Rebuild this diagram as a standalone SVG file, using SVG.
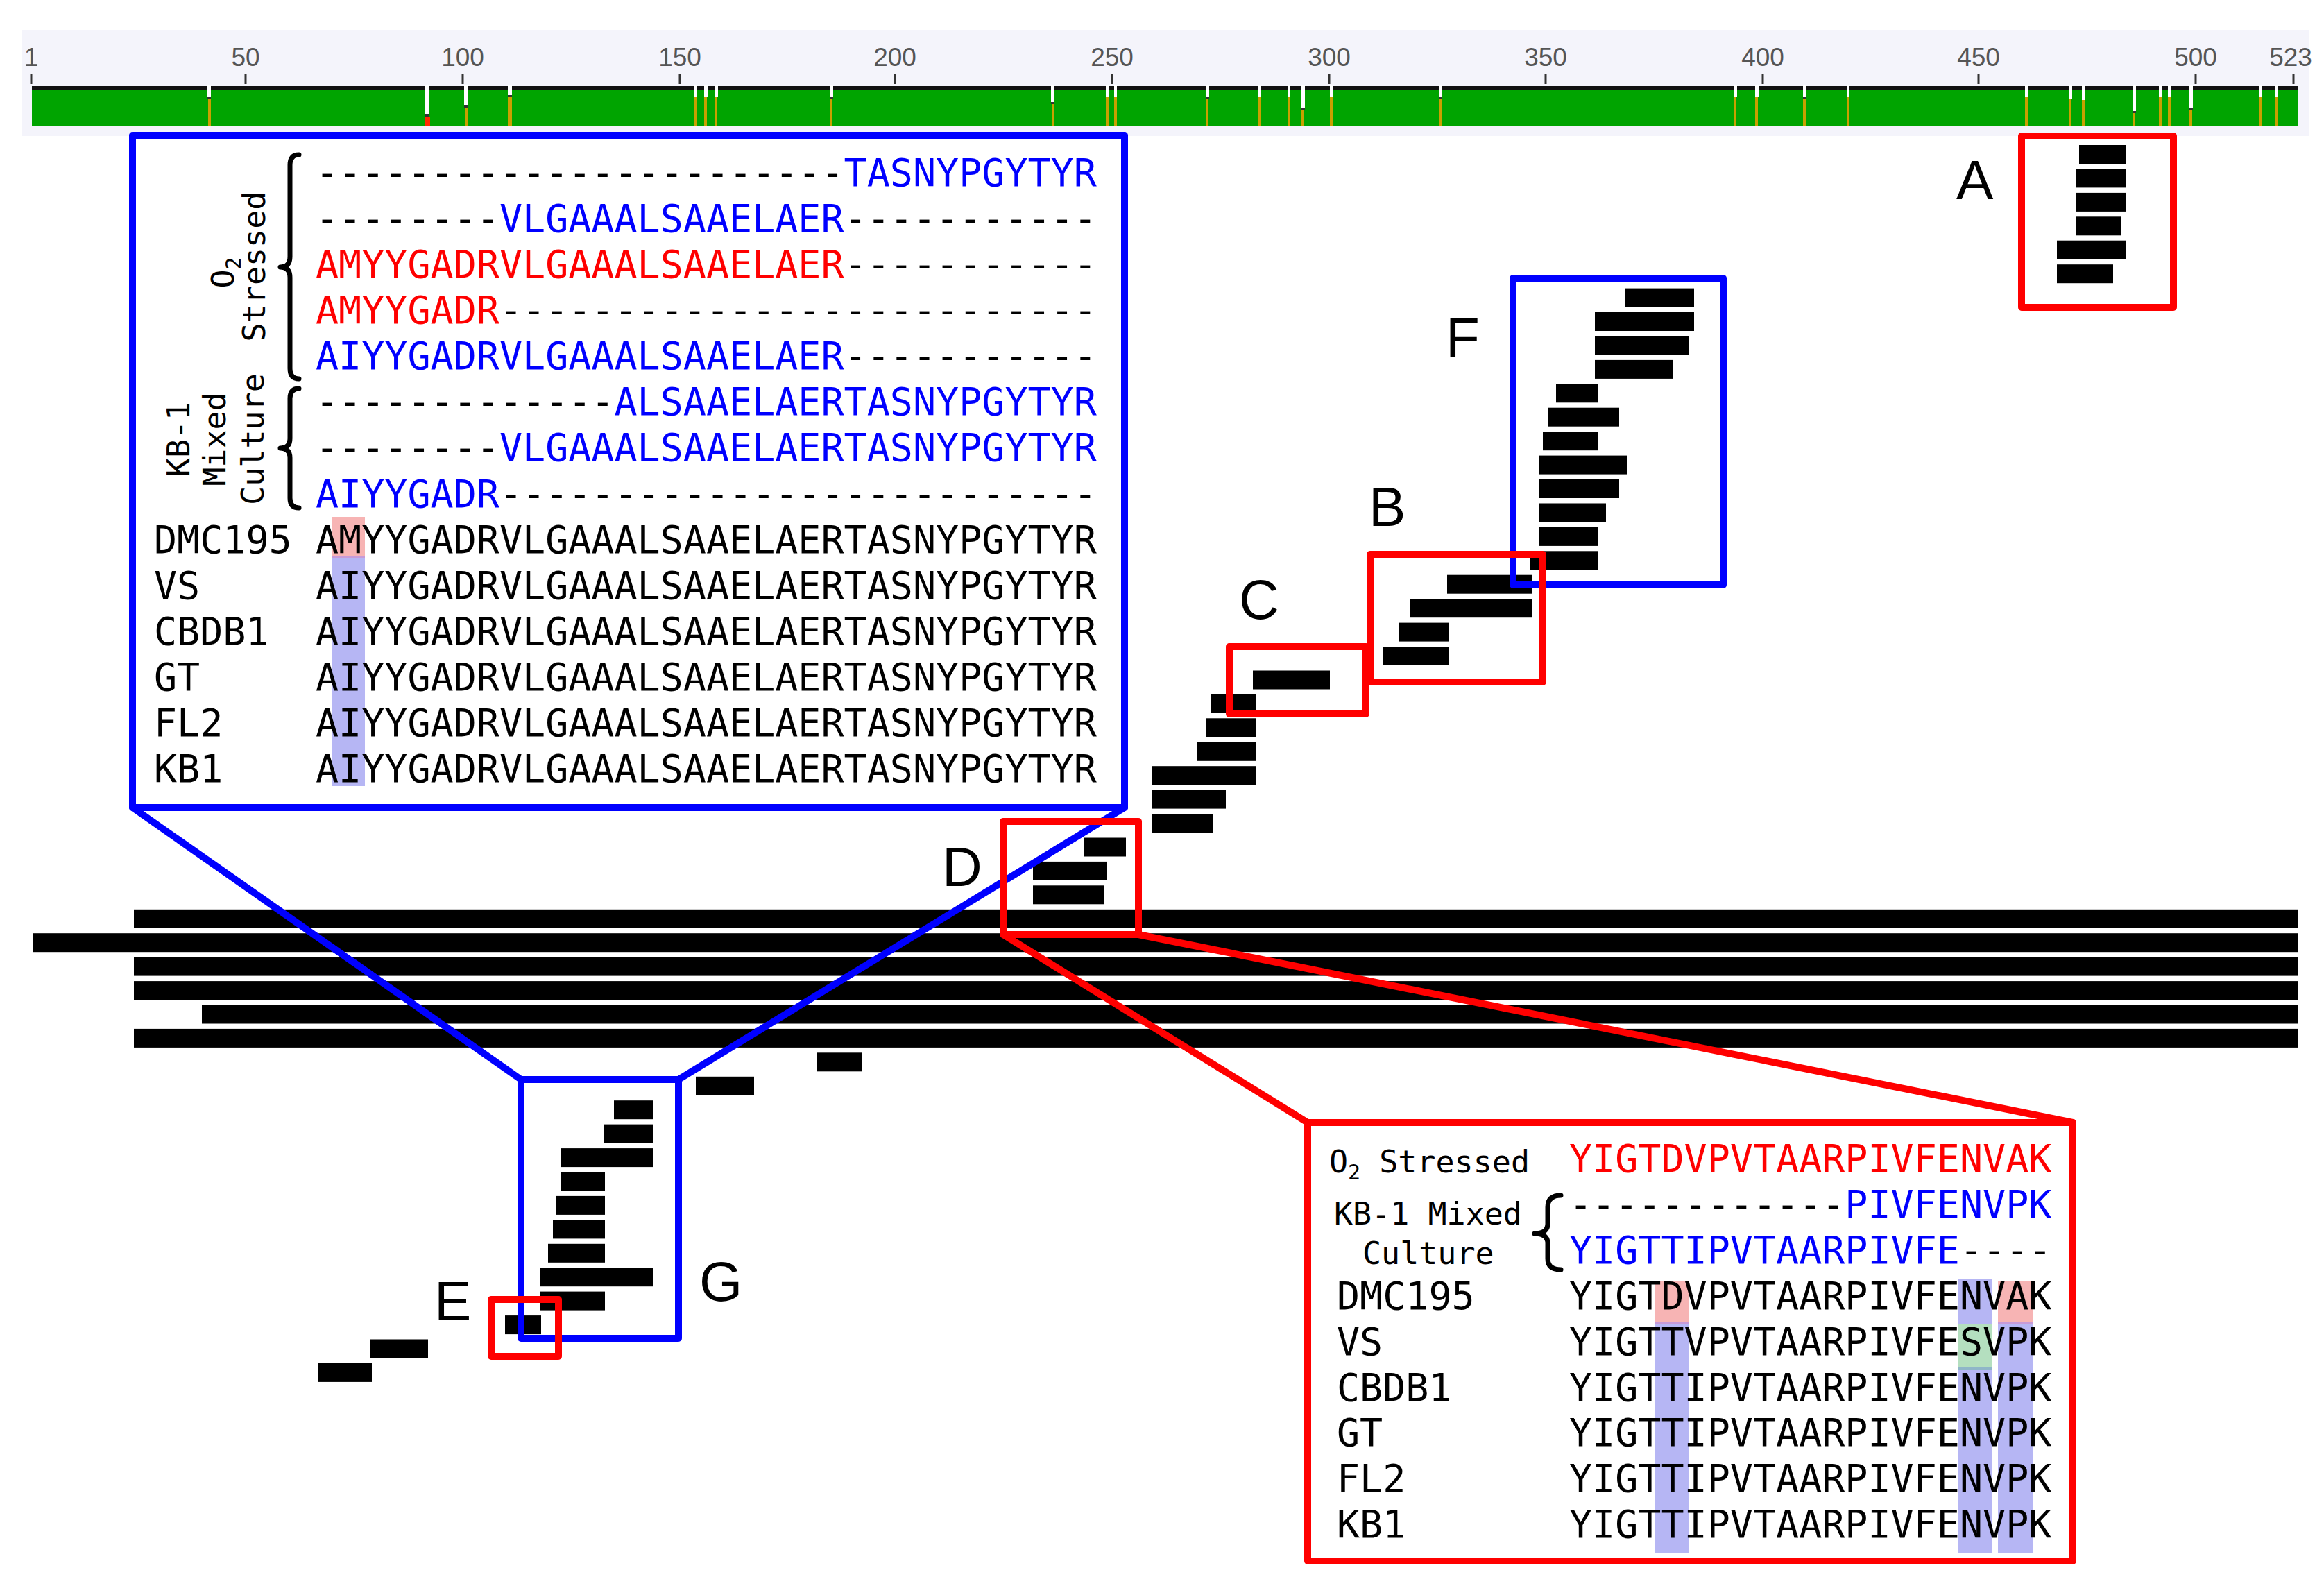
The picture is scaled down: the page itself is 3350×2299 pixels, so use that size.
<svg xmlns="http://www.w3.org/2000/svg" width="3350" height="2299" viewBox="0 0 3350 2299">
<style>
.bar{fill:#000}
.seq{font-family:'DejaVu Sans Mono',monospace;font-size:55px;fill:#000}
.lab45{font-family:'DejaVu Sans Mono',monospace;font-size:45px;fill:#000}
.bl{fill:#0000ff}
.rd{fill:#ff0000}
.lbl{font-family:'Liberation Sans',Arial,sans-serif;font-size:80px;fill:#000}
.tick{font-family:'Liberation Sans',Arial,sans-serif;font-size:37px;fill:#555;text-anchor:middle}
.tm{stroke:#333;stroke-width:3}
.bbox{fill:#fff;stroke:#0000ff;stroke-width:10;stroke-linejoin:round}
.rbox{fill:none;stroke:#ff0000;stroke-width:10;stroke-linejoin:round}
.rboxf{fill:#fff;stroke:#ff0000;stroke-width:10;stroke-linejoin:round}
.bline{stroke:#0000ff;stroke-width:10;stroke-linecap:round}
.rline{stroke:#ff0000;stroke-width:10;stroke-linecap:round}
.brace{fill:none;stroke:#000;stroke-width:7;stroke-linecap:round;stroke-linejoin:round}
.gw{fill:#fff}
.gy{fill:#c9a000}
.gd{fill:#333}
.hr{fill:#f7b4b4}
.hb{fill:#b6b6f4}
.hg{fill:#b4dfbf}
</style>
<rect width="3350" height="2299" fill="#fff"/>

<g id="header">
<rect x="32" y="43" width="3297" height="153" fill="#f4f4fb"/>
<g id="tick-labels">
<text class="tick" x="45" y="95">1</text>
<text class="tick" x="354" y="95">50</text>
<text class="tick" x="667" y="95">100</text>
<text class="tick" x="980" y="95">150</text>
<text class="tick" x="1290" y="95">200</text>
<text class="tick" x="1603" y="95">250</text>
<text class="tick" x="1916" y="95">300</text>
<text class="tick" x="2228" y="95">350</text>
<text class="tick" x="2541" y="95">400</text>
<text class="tick" x="2852" y="95">450</text>
<text class="tick" x="3165" y="95">500</text>
<text class="tick" x="3302" y="95">523</text>
</g>
<g id="tick-marks">
<line class="tm" x1="45" y1="107" x2="45" y2="121"/>
<line class="tm" x1="354" y1="107" x2="354" y2="121"/>
<line class="tm" x1="667" y1="107" x2="667" y2="121"/>
<line class="tm" x1="980" y1="107" x2="980" y2="121"/>
<line class="tm" x1="1290" y1="107" x2="1290" y2="121"/>
<line class="tm" x1="1603" y1="107" x2="1603" y2="121"/>
<line class="tm" x1="1916" y1="107" x2="1916" y2="121"/>
<line class="tm" x1="2228" y1="107" x2="2228" y2="121"/>
<line class="tm" x1="2541" y1="107" x2="2541" y2="121"/>
<line class="tm" x1="2852" y1="107" x2="2852" y2="121"/>
<line class="tm" x1="3165" y1="107" x2="3165" y2="121"/>
<line class="tm" x1="3306" y1="107" x2="3306" y2="121"/>
</g>
<rect x="46" y="124" width="3267" height="6" fill="#111"/>
<rect x="46" y="130" width="3267" height="52" fill="#00a400"/>
<g id="gaps">
<rect class="gw" x="299" y="122" width="5" height="18"/><rect class="gd" x="299" y="140" width="5" height="3"/><rect class="gy" x="300" y="143" width="4" height="39"/>
<rect class="gw" x="613" y="122" width="6" height="42"/><rect class="gd" x="613" y="164" width="6" height="4"/><rect x="612" y="168" width="8" height="14" fill="#ff2a00"/>
<rect class="gw" x="669" y="122" width="5" height="30"/><rect class="gd" x="669" y="152" width="5" height="3"/><rect class="gy" x="670" y="155" width="4" height="27"/>
<rect class="gw" x="732" y="122" width="6" height="15"/><rect class="gd" x="732" y="137" width="6" height="3"/><rect class="gy" x="732" y="140" width="6" height="42"/>
<rect class="gw" x="1000" y="122" width="5" height="18"/><rect class="gy" x="1001" y="140" width="4" height="42"/>
<rect class="gw" x="1015" y="122" width="5" height="18"/><rect class="gy" x="1015" y="140" width="4" height="42"/>
<rect class="gw" x="1030" y="122" width="5" height="18"/><rect class="gy" x="1030" y="140" width="4" height="42"/>
<rect class="gw" x="1196" y="122" width="5" height="18"/><rect class="gd" x="1196" y="140" width="5" height="3"/><rect class="gy" x="1196" y="143" width="4" height="39"/>
<rect class="gw" x="1515" y="122" width="5" height="25"/><rect class="gd" x="1515" y="147" width="5" height="3"/><rect class="gy" x="1516" y="150" width="4" height="32"/>
<rect class="gw" x="1594" y="122" width="4" height="18"/><rect class="gy" x="1594" y="140" width="4" height="42"/>
<rect class="gw" x="1606" y="122" width="4" height="18"/><rect class="gy" x="1606" y="140" width="4" height="42"/>
<rect class="gw" x="1738" y="122" width="5" height="18"/><rect class="gd" x="1738" y="140" width="5" height="3"/><rect class="gy" x="1738" y="143" width="4" height="39"/>
<rect class="gw" x="1813" y="122" width="4" height="18"/><rect class="gy" x="1813" y="140" width="4" height="42"/>
<rect class="gw" x="1856" y="122" width="4" height="18"/><rect class="gy" x="1856" y="140" width="4" height="42"/>
<rect class="gw" x="1876" y="122" width="5" height="33"/><rect class="gd" x="1876" y="155" width="5" height="3"/><rect class="gy" x="1876" y="158" width="4" height="24"/>
<rect class="gw" x="1917" y="122" width="5" height="18"/><rect class="gy" x="1917" y="140" width="4" height="42"/>
<rect class="gw" x="2074" y="122" width="5" height="18"/><rect class="gd" x="2074" y="140" width="5" height="3"/><rect class="gy" x="2074" y="143" width="4" height="39"/>
<rect class="gw" x="2499" y="122" width="5" height="18"/><rect class="gy" x="2499" y="140" width="4" height="42"/>
<rect class="gw" x="2530" y="122" width="5" height="18"/><rect class="gy" x="2530" y="140" width="4" height="42"/>
<rect class="gw" x="2599" y="122" width="5" height="18"/><rect class="gd" x="2599" y="140" width="5" height="3"/><rect class="gy" x="2599" y="143" width="4" height="39"/>
<rect class="gw" x="2662" y="122" width="4" height="18"/><rect class="gy" x="2662" y="140" width="4" height="42"/>
<rect class="gw" x="2919" y="122" width="4" height="18"/><rect class="gy" x="2919" y="140" width="4" height="42"/>
<rect class="gw" x="2982" y="122" width="5" height="20"/><rect class="gy" x="2982" y="142" width="4" height="40"/>
<rect class="gw" x="3001" y="122" width="5" height="22"/><rect class="gy" x="3001" y="144" width="5" height="38"/>
<rect class="gw" x="3074" y="122" width="5" height="38"/><rect class="gd" x="3074" y="160" width="5" height="3"/><rect class="gy" x="3074" y="163" width="4" height="19"/>
<rect class="gw" x="3112" y="122" width="4" height="18"/><rect class="gy" x="3112" y="140" width="4" height="42"/>
<rect class="gw" x="3125" y="122" width="4" height="18"/><rect class="gy" x="3125" y="140" width="4" height="42"/>
<rect class="gw" x="3156" y="122" width="5" height="33"/><rect class="gd" x="3156" y="155" width="5" height="3"/><rect class="gy" x="3156" y="158" width="4" height="24"/>
<rect class="gw" x="3256" y="122" width="4" height="18"/><rect class="gy" x="3256" y="140" width="4" height="42"/>
<rect class="gw" x="3280" y="122" width="4" height="18"/><rect class="gy" x="3280" y="140" width="4" height="42"/>
</g>
</g>

<g id="peptide-bars">
<rect class="bar" x="2997" y="209.0" width="68" height="27"/>
<rect class="bar" x="2992" y="243.4" width="73" height="27"/>
<rect class="bar" x="2992" y="277.9" width="73" height="27"/>
<rect class="bar" x="2992" y="312.3" width="65" height="27"/>
<rect class="bar" x="2965" y="346.7" width="100" height="27"/>
<rect class="bar" x="2965" y="381.2" width="81" height="27"/>
<rect class="bar" x="2342" y="415.6" width="100" height="27"/>
<rect class="bar" x="2299" y="450.0" width="143" height="27"/>
<rect class="bar" x="2299" y="484.4" width="135" height="27"/>
<rect class="bar" x="2299" y="518.9" width="112" height="27"/>
<rect class="bar" x="2243" y="553.3" width="61" height="27"/>
<rect class="bar" x="2231" y="587.7" width="103" height="27"/>
<rect class="bar" x="2224" y="622.2" width="80" height="27"/>
<rect class="bar" x="2219" y="656.6" width="127" height="27"/>
<rect class="bar" x="2219" y="691.0" width="115" height="27"/>
<rect class="bar" x="2219" y="725.5" width="96" height="27"/>
<rect class="bar" x="2219" y="759.9" width="85" height="27"/>
<rect class="bar" x="2205" y="794.3" width="99" height="27"/>
<rect class="bar" x="2086" y="828.7" width="122" height="27"/>
<rect class="bar" x="2033" y="863.2" width="175" height="27"/>
<rect class="bar" x="2017" y="897.6" width="72" height="27"/>
<rect class="bar" x="1994" y="932.0" width="95" height="27"/>
<rect class="bar" x="1806" y="966.5" width="111" height="27"/>
<rect class="bar" x="1746" y="1000.9" width="64" height="27"/>
<rect class="bar" x="1739" y="1035.3" width="71" height="27"/>
<rect class="bar" x="1726" y="1069.8" width="84" height="27"/>
<rect class="bar" x="1661" y="1104.2" width="149" height="27"/>
<rect class="bar" x="1661" y="1138.6" width="106" height="27"/>
<rect class="bar" x="1661" y="1173.0" width="87" height="27"/>
<rect class="bar" x="1562" y="1207.5" width="61" height="27"/>
<rect class="bar" x="1489" y="1241.9" width="106" height="27"/>
<rect class="bar" x="1489" y="1276.3" width="103" height="27"/>
<rect class="bar" x="193" y="1310.8" width="3120" height="27"/>
<rect class="bar" x="47" y="1345.2" width="3266" height="27"/>
<rect class="bar" x="193" y="1379.6" width="3120" height="27"/>
<rect class="bar" x="193" y="1414.1" width="3120" height="27"/>
<rect class="bar" x="291" y="1448.5" width="3022" height="27"/>
<rect class="bar" x="193" y="1482.9" width="3120" height="27"/>
<rect class="bar" x="1177" y="1517.3" width="65" height="27"/>
<rect class="bar" x="1003" y="1551.8" width="84" height="27"/>
<rect class="bar" x="885" y="1586.2" width="57" height="27"/>
<rect class="bar" x="870" y="1620.6" width="72" height="27"/>
<rect class="bar" x="808" y="1655.1" width="134" height="27"/>
<rect class="bar" x="808" y="1689.5" width="64" height="27"/>
<rect class="bar" x="801" y="1723.9" width="71" height="27"/>
<rect class="bar" x="797" y="1758.4" width="75" height="27"/>
<rect class="bar" x="790" y="1792.8" width="82" height="27"/>
<rect class="bar" x="778" y="1827.2" width="164" height="27"/>
<rect class="bar" x="778" y="1861.6" width="94" height="27"/>
<rect class="bar" x="728" y="1896.1" width="52" height="27"/>
<rect class="bar" x="533" y="1930.5" width="84" height="27"/>
<rect class="bar" x="459" y="1964.9" width="77" height="27"/>
</g>

<g id="connectors">
<line class="bline" x1="191" y1="1164" x2="751" y2="1556"/>
<line class="bline" x1="1621" y1="1164" x2="978" y2="1556"/>
<line class="rline" x1="1446" y1="1347" x2="1885" y2="1618"/>
<line class="rline" x1="1641" y1="1347" x2="2988" y2="1618"/>
</g>

<g id="node-A">
<rect class="rbox" x="2914" y="196" width="219" height="247"/>
<text class="lbl" x="2820" y="287">A</text>
</g>
<g id="node-F">
<rect class="bbox" x="2181" y="401" width="303" height="442" fill="none" style="fill:none"/>
<text class="lbl" x="2084" y="514">F</text>
</g>
<g id="node-B">
<rect class="rbox" x="1975" y="799" width="249" height="184"/>
<text class="lbl" x="1973" y="758">B</text>
</g>
<g id="node-C">
<rect class="rbox" x="1772" y="932" width="197" height="97"/>
<text class="lbl" x="1786" y="892">C</text>
</g>
<g id="node-D">
<rect class="rbox" x="1446" y="1184" width="195" height="163"/>
<text class="lbl" x="1358" y="1277">D</text>
</g>
<g id="node-G">
<rect class="bbox" x="751" y="1556" width="227" height="373" style="fill:none"/>
<text class="lbl" x="1008" y="1875">G</text>
</g>
<g id="node-E">
<rect class="rbox" x="708" y="1873" width="97" height="82"/>
<text class="lbl" x="626" y="1903">E</text>
</g>

<g id="node-G-detail">
<rect class="bbox" x="191" y="195" width="1430" height="969"/>
<rect class="hr" x="478" y="745" width="48" height="58"/>
<rect class="hb" x="478" y="803" width="48" height="330"/>
<rect x="478" y="801" width="48" height="4" fill="#c79bd8"/>
<text class="lab45" transform="translate(337,393) rotate(-90)" text-anchor="middle">O<tspan font-size="30" dy="10">2</tspan></text>
<text class="lab45" transform="translate(382,384) rotate(-90)" text-anchor="middle">Stressed</text>
<text class="lab45" transform="translate(273,633) rotate(-90)" text-anchor="middle">KB-1</text>
<text class="lab45" transform="translate(325,633) rotate(-90)" text-anchor="middle">Mixed</text>
<text class="lab45" transform="translate(380,633) rotate(-90)" text-anchor="middle">Culture</text>
<path class="brace" d="M431,223 Q418,223 418,238 L418,370 Q418,385 404,385 Q418,385 418,400 L418,531 Q418,546 431,546"/>
<path class="brace" d="M431,560 Q418,560 418,574 L418,632 Q418,646 404,646 Q418,646 418,660 L418,718 Q418,732 431,732"/>
<text class="seq" x="455" y="267.8">-----------------------<tspan class="bl">TASNYPGYTYR</tspan></text>
<text class="seq" x="455" y="333.9">--------<tspan class="bl">VLGAAALSAAELAER</tspan>-----------</text>
<text class="seq" x="455" y="400.0"><tspan class="rd">AMYYGADRVLGAAALSAAELAER</tspan>-----------</text>
<text class="seq" x="455" y="466.1"><tspan class="rd">AMYYGADR</tspan>--------------------------</text>
<text class="seq" x="455" y="532.2"><tspan class="bl">AIYYGADRVLGAAALSAAELAER</tspan>-----------</text>
<text class="seq" x="455" y="598.3">-------------<tspan class="bl">ALSAAELAERTASNYPGYTYR</tspan></text>
<text class="seq" x="455" y="664.4">--------<tspan class="bl">VLGAAALSAAELAERTASNYPGYTYR</tspan></text>
<text class="seq" x="455" y="730.5"><tspan class="bl">AIYYGADR</tspan>--------------------------</text>
<text class="seq" x="222" y="796.6">DMC195</text><text class="seq" x="455" y="796.6">AMYYGADRVLGAAALSAAELAERTASNYPGYTYR</text>
<text class="seq" x="222" y="862.7">VS</text><text class="seq" x="455" y="862.7">AIYYGADRVLGAAALSAAELAERTASNYPGYTYR</text>
<text class="seq" x="222" y="928.8">CBDB1</text><text class="seq" x="455" y="928.8">AIYYGADRVLGAAALSAAELAERTASNYPGYTYR</text>
<text class="seq" x="222" y="994.9">GT</text><text class="seq" x="455" y="994.9">AIYYGADRVLGAAALSAAELAERTASNYPGYTYR</text>
<text class="seq" x="222" y="1061.0">FL2</text><text class="seq" x="455" y="1061.0">AIYYGADRVLGAAALSAAELAERTASNYPGYTYR</text>
<text class="seq" x="222" y="1127.1">KB1</text><text class="seq" x="455" y="1127.1">AIYYGADRVLGAAALSAAELAERTASNYPGYTYR</text>
</g>

<g id="node-D-detail">
<rect class="rboxf" x="1885" y="1618" width="1103" height="632"/>
<rect class="hr" x="2385" y="1846" width="50" height="61"/>
<rect class="hb" x="2385" y="1907" width="50" height="331"/>
<rect class="hb" x="2822" y="1843" width="49" height="66"/>
<rect class="hg" x="2822" y="1909" width="49" height="64"/>
<rect class="hb" x="2822" y="1973" width="49" height="265"/>
<rect class="hr" x="2880" y="1846" width="50" height="61"/>
<rect class="hb" x="2880" y="1907" width="50" height="331"/>
<rect x="2385" y="1905" width="50" height="4" fill="#c79bd8"/>
<rect x="2880" y="1905" width="50" height="4" fill="#c79bd8"/>
<rect x="2822" y="1971" width="49" height="4" fill="#8fb6c8"/>
<text class="lab45" x="1916" y="1690">O<tspan font-size="30" dy="10">2</tspan><tspan dy="-10"> Stressed</tspan></text>
<text class="lab45" x="1923" y="1765">KB-1 Mixed</text>
<text class="lab45" x="1964" y="1822">Culture</text>
<path class="brace" d="M2250,1723 Q2231,1723 2231,1740 L2231,1764 Q2231,1778 2212,1778 Q2231,1778 2231,1792 L2231,1814 Q2231,1830 2250,1830"/>
<text class="seq rd" x="2262" y="1689">YIGTDVPVTAARPIVFENVAK</text>
<text class="seq" x="2262" y="1755">------------<tspan class="bl">PIVFENVPK</tspan></text>
<text class="seq" x="2262" y="1821"><tspan class="bl">YIGTTIPVTAARPIVFE</tspan>----</text>
<text class="seq" x="1927" y="1887">DMC195</text><text class="seq" x="2262" y="1887">YIGTDVPVTAARPIVFENVAK</text>
<text class="seq" x="1927" y="1953">VS</text><text class="seq" x="2262" y="1953">YIGTTVPVTAARPIVFESVPK</text>
<text class="seq" x="1927" y="2018.5">CBDB1</text><text class="seq" x="2262" y="2018.5">YIGTTIPVTAARPIVFENVPK</text>
<text class="seq" x="1927" y="2084.4">GT</text><text class="seq" x="2262" y="2084.4">YIGTTIPVTAARPIVFENVPK</text>
<text class="seq" x="1927" y="2150.3">FL2</text><text class="seq" x="2262" y="2150.3">YIGTTIPVTAARPIVFENVPK</text>
<text class="seq" x="1927" y="2216">KB1</text><text class="seq" x="2262" y="2216">YIGTTIPVTAARPIVFENVPK</text>
</g>
</svg>
